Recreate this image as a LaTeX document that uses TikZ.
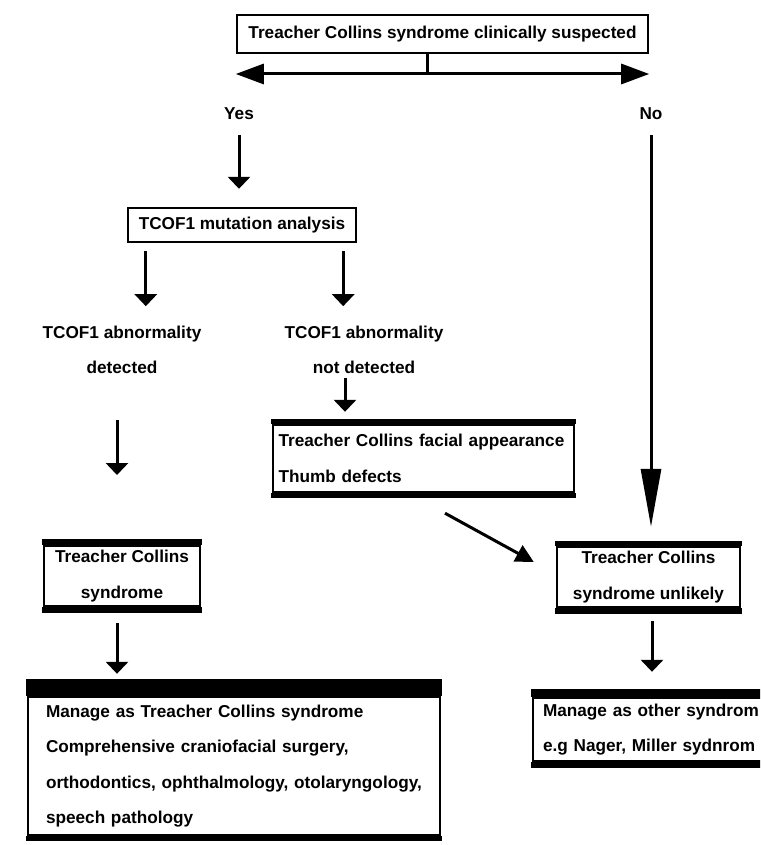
\documentclass[tikz,border=0pt]{standalone}
\usepackage{fontspec}
\setmainfont{Liberation Sans}
\usetikzlibrary{arrows.meta,calc,positioning}

\begin{document}
\begin{tikzpicture} [
    x = 0.5pt, y = -0.5pt,
    font = \fontsize{8.6}{17.75}\selectfont\bfseries,
    box/.style = { draw, line width = 1.2pt, inner sep = 0 },
    lbl/.style = { align = center, inner sep = 0 },
    arr/.style = { line width = 1.5pt, -{Triangle[length = 6pt, width = 11pt]} },
    harr/.style = { line width = 1.5pt, {Triangle[length = 14pt, width = 10pt]}-{Triangle[length = 14pt, width = 10pt]} },
    longarr/.style = { line width = 1.5pt, -{Triangle[length = 29pt, width = 10pt]} },
    diagarr/.style = { line width = 1.5pt, -{Triangle[length = 9pt, width = 9pt]} }
    ]

    \useasboundingbox (0,0) rectangle (760,845);
    \clip (0,0) rectangle (760,845);

    \node [box, minimum width = 205.5pt, minimum height = 19pt] (susp) at (442.5,34) {Treacher Collins syndrome clinically suspected};
    \coordinate (fork) at (427,74);

    \node [lbl] (yes) at (239,114) {Yes};
    \node [lbl] (no) at (651,114) {No};

    \node [box, minimum width = 114pt, minimum height = 17pt] (tcof) at (242,225) {TCOF1 mutation analysis};

    \node [lbl] (det) at (122,350) {TCOF1 abnormality\\detected};
    \node [lbl] (ndet) at (364,350) {TCOF1 abnormality\\not detected};

    \node [box, text width = 145pt, inner xsep = 2.75pt, minimum height = 33.5pt, align = left] (face) at (423.5,458.5) {Treacher Collins facial appearance\\Thumb defects};

    \node [box, minimum width = 78pt, minimum height = 30pt, align = center] (tcs) at (122,576) {Treacher Collins\\syndrome};
    \node [box, minimum width = 91.5pt, minimum height = 30pt, align = center] (unl) at (648.5,577) {Treacher Collins\\syndrome unlikely};

    \node [box, text width = 188pt, inner xsep = 9pt, minimum height = 69pt, align = left] (mgt) at (234,766) {Manage as Treacher Collins syndrome\\Comprehensive craniofacial surgery,\\orthodontics, ophthalmology, otolaryngology,\\speech pathology};
    \node [box, text width = 120pt, inner xsep = 5pt, minimum height = 31.5pt, align = left] (oth) at (663,729.5) {Manage as other syndrom\\e.g Nager, Miller sydnrom};

    % heavy top and bottom edges
    \foreach \n/\t/\b in {face/5/5, tcs/6/6, unl/5/6, mgt/17/5, oth/8/6} {
        \fill ($(\n.north west)+(-1.2,0)$) rectangle ($(\n.north east)+(1.2,-\t)$);
        \fill ($(\n.south west)+(-1.2,0)$) rectangle ($(\n.south east)+(1.2,\b)$);
    }

    \draw [line width = 1.5pt] (susp.south -| fork) -- (fork);
    \draw [harr] (susp.west |- fork) -- (susp.east |- fork);

    \draw [arr] ($(yes)+(0,21)$) -- ($(yes |- tcof.north)+(0,-18)$);
    \draw [arr] ($(tcof.south west)+(19,8)$) -- ++(0,55);
    \draw [arr] ($(tcof.south east)+(-14,8)$) -- ++(0,55);
    \draw [arr] ($(ndet)+(-19,28)$) -- ($(ndet |- face.north)+(-19,-12)$);
    \draw [arr] ($(det)+(-5,70)$) -- ++(0,55);
    \draw [arr] ($(tcs.south)+(-5,16)$) -- ($(tcs.south |- mgt.north)+(-5,-22)$);
    \draw [longarr] ($(no)+(0,21)$) -- ($(no |- unl.north)+(0,-19)$);
    \draw [diagarr] ($(face.south)+(21.5,20)$) -- ($(unl.west)+(-22,-15)$);
    \draw [arr] ($(unl.south)+(3.5,13)$) -- ($(unl.south |- oth.north)+(3.5,-25)$);

\end{tikzpicture}
\end{document}
